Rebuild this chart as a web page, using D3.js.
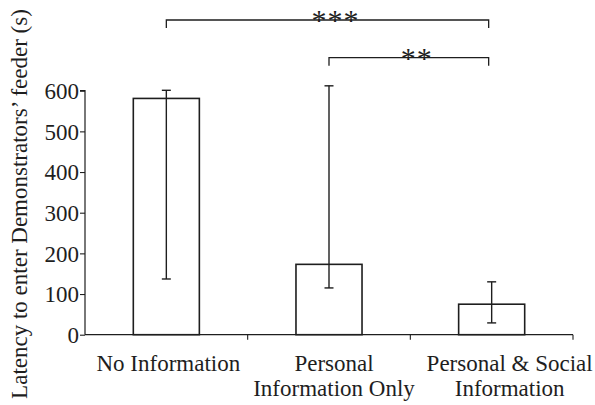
<!DOCTYPE html>
<html>
<head>
<meta charset="utf-8">
<script src="https://cdn.jsdelivr.net/npm/d3@7"></script>
<style>
  html, body { margin: 0; padding: 0; background: #fff; }
  svg { display: block; }
  svg text { font-family: 'Liberation Serif', 'DejaVu Serif', serif; }
</style>
</head>
<body>
<svg id="chart" width="595" height="405"></svg>
<script>
// Latency data per treatment group (seconds)
const categories = ["No Information", "Personal Information Only", "Personal & Social Information"];
const categoryLines = [["No Information"], ["Personal", "Information Only"], ["Personal & Social", "Information"]];
const latency = [581, 173, 75];
const errLow = [137, 115, 29];
const errHigh = [601, 612, 130];
const yTicks = [0, 100, 200, 300, 400, 500, 600];
const yLabel = "Latency to enter Demonstrators’ feeder (s)";
// Significance comparisons: [from index, to index, label]
const comparisons = [[0, 2, "***"], [1, 2, "**"]];

const ink = "#1e1e1e";
const serif = "'Liberation Serif', 'DejaVu Serif', serif";
const svg = d3.select("#chart");
const plotLeft = 85, plotRight = 573, plotTop = 90.7, plotBottom = 334.7;

const x = d3.scaleBand().domain(categories).range([plotLeft, plotRight]).padding(0);
const y = d3.scaleLinear().domain([0, 600]).range([plotBottom, plotTop]);
const barW = x.bandwidth() * 0.406;
const cx = c => x(c) + x.bandwidth() / 2;

// y axis
const yAxis = svg.append("g").attr("transform", `translate(${plotLeft},0)`)
  .call(d3.axisLeft(y).tickValues(yTicks).tickSize(5).tickPadding(1).tickFormat(d3.format("d")));
yAxis.attr("font-family", serif);
yAxis.select(".domain").attr("stroke", ink).attr("stroke-width", 1.2).attr("d", `M-5,${y(600)}H0V${plotBottom}`);
yAxis.selectAll(".tick line").attr("stroke", ink).attr("stroke-width", 1.1);
yAxis.selectAll(".tick text").attr("font-size", 23).attr("fill", ink)
  .attr("font-family", serif).attr("dy", "0.34em");

// x axis with ticks at band boundaries
svg.append("line").attr("x1", plotLeft).attr("x2", plotRight).attr("y1", plotBottom).attr("y2", plotBottom)
  .attr("stroke", ink).attr("stroke-width", 1.2);
const boundaries = categories.map(c => x(c) + x.bandwidth());
svg.selectAll(".xtick").data(boundaries).join("line")
  .attr("x1", d => d).attr("x2", d => d).attr("y1", plotBottom).attr("y2", plotBottom + 5)
  .attr("stroke", ink).attr("stroke-width", 1.1);

// category labels
const labelShift = [2, 5, 18];
categories.forEach((c, i) => {
  const t = svg.append("text").attr("x", cx(c) + labelShift[i]).attr("y", 371)
    .attr("text-anchor", "middle").attr("font-size", 23).attr("font-family", serif).attr("fill", ink);
  categoryLines[i].forEach((ln, j) => {
    t.append("tspan").attr("x", cx(c) + labelShift[i]).attr("dy", j === 0 ? 0 : 24.5).text(ln);
  });
});

// y axis title
svg.append("text")
  .attr("transform", `translate(27,${204}) rotate(-90)`)
  .attr("text-anchor", "middle").attr("font-size", 23).attr("font-family", serif).attr("fill", ink)
  .text(yLabel);

// bars
svg.selectAll(".bar").data(categories).join("rect")
  .attr("x", c => cx(c) - barW / 2)
  .attr("y", (c, i) => y(latency[i]))
  .attr("width", barW)
  .attr("height", (c, i) => y(0) - y(latency[i]))
  .attr("fill", "#fff").attr("stroke", ink).attr("stroke-width", 1.6);

// error bars
const capW = 9;
categories.forEach((c, i) => {
  const g = svg.append("g").attr("stroke", ink).attr("stroke-width", 1.4);
  g.append("line").attr("x1", cx(c)).attr("x2", cx(c)).attr("y1", y(errLow[i])).attr("y2", y(errHigh[i]));
  [errLow[i], errHigh[i]].forEach(v => {
    g.append("line").attr("x1", cx(c) - capW / 2).attr("x2", cx(c) + capW / 2).attr("y1", y(v)).attr("y2", y(v));
  });
});

// significance brackets
const bracketY = [20, 57.7];
comparisons.forEach(([a, b, lab], k) => {
  const x1 = cx(categories[a]), x2 = cx(categories[b]) - 3, by = bracketY[k];
  svg.append("path").attr("d", `M${x1},${by + 8}V${by}H${x2}V${by + 8}`)
    .attr("fill", "none").attr("stroke", ink).attr("stroke-width", 1.3);
  svg.append("text").attr("x", (x1 + x2) / 2 + 8).attr("y", by + 10)
    .attr("text-anchor", "middle").attr("font-size", 30).attr("letter-spacing", 1)
    .attr("font-family", serif).attr("fill", ink).text(lab);
});
</script>
</body>
</html>
